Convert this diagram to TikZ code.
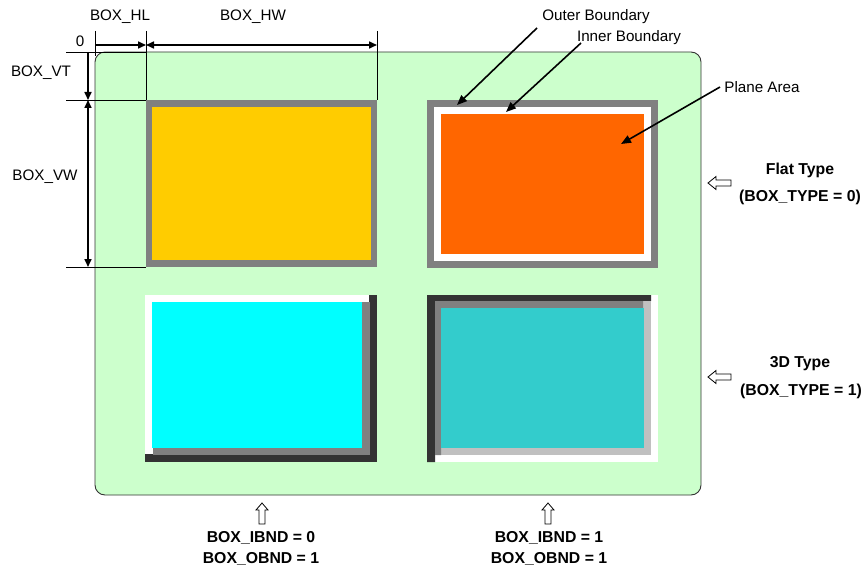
\documentclass[tikz,border=0pt]{standalone}
\usepackage{fontspec}
\setmainfont{Liberation Sans}
\usetikzlibrary{arrows.meta}
\definecolor{bggreen}{HTML}{CCFFCC}
\definecolor{bgray}{HTML}{808080}
\definecolor{bdark}{HTML}{333333}
\definecolor{blight}{HTML}{C0C0C0}
\definecolor{byellow}{HTML}{FFCC00}
\definecolor{borange}{HTML}{FF6600}
\definecolor{bcyan}{HTML}{00FFFF}
\definecolor{bteal}{HTML}{33CCCC}
\begin{document}
\begin{tikzpicture}[x=1pt,y=-1pt,
  lbl/.style={inner sep=0pt, font=\fontsize{15.2}{17}\selectfont},
  blbl/.style={inner sep=0pt, font=\fontsize{15.8}{18}\selectfont\bfseries},
  ext/.style={line width=0.8pt, draw=black},
  dimline/.style={line width=1.6pt, draw=black},
  tipd/.style={-{Triangle[length=8pt,width=7pt]}},
  tipdd/.style={{Triangle[length=8pt,width=7pt]}-{Triangle[length=8pt,width=7pt]}},
  callout/.style={line width=1.6pt, draw=black, -{Triangle[length=10pt,width=8pt]}},
  hollow/.style={draw=black, fill=white, line width=0.8pt, line join=miter}]
\useasboundingbox (0,0) rectangle (864,567);

% panel
\draw[fill=bggreen, draw=bdark, line width=0.9pt, rounded corners=10pt] (95,52) rectangle (701,495);

% box 1: flat, no inner boundary
\fill[bgray] (146,100) rectangle (377,267);
\fill[byellow] (152,107) rectangle (371,260);

% box 2: flat, inner boundary
\fill[bgray] (427,100) rectangle (658,268);
\fill[white] (434,107) rectangle (651,261);
\fill[borange] (441,114) rectangle (644,254);

% box 3: 3D raised
\fill[bdark] (145,295) rectangle (377,462);
\fill[white] (145,295) rectangle (369,454);
\fill[bgray] (153,302) rectangle (370,455);
\fill[bcyan] (152,302) rectangle (362,448);

% box 4: 3D sunken with inner boundary
\fill[white] (427,295) rectangle (658,462);
\fill[bdark] (427,462) -- (427,295) -- (651,295) -- (651,301) -- (435,301) -- (435,462) -- cycle;
\fill[blight] (435,301) rectangle (651,455);
\fill[bgray] (435,455) -- (435,301) -- (643,301) -- (643,308) -- (441,308) -- (441,455) -- cycle;
\fill[bteal] (441,308) rectangle (644,448);

% dimension coordinates
\coordinate (h0) at (95,45);
\coordinate (h1) at (146,45);
\coordinate (h2) at (377,45);
\coordinate (v0) at (88,52);
\coordinate (v1) at (88,100);
\coordinate (v2) at (88,267);

% extension lines
\draw[ext] (95,31) -- (95,56);
\draw[ext] (146,31) -- (146,100);
\draw[ext] (377,31) -- (377,100);
\draw[ext] (66,52) -- (146,52);
\draw[ext] (66,100) -- (146,100);
\draw[ext] (66,267) -- (146,267);

% dimension arrows
\draw[dimline, tipd] (h0) -- (h1);
\draw[dimline, tipdd] (h1) -- (h2);
\draw[dimline, tipd] (v0) -- (v1);
\draw[dimline, tipdd] (v1) -- (v2);

% dimension labels
\node[lbl] (zero) at (80,41) {0};
\node[lbl] (hl) at (120,17) {BOX\_HL};
\node[lbl] (hw) at (253,17) {BOX\_HW};
\node[lbl] (vt) at (41,73) {BOX\_VT};
\node[lbl] (vw) at (45,177) {BOX\_VW};

% callouts
\node[lbl] (outer) at (596,17) {Outer Boundary};
\node[lbl] (inner) at (629,38) {Inner Boundary};
\node[lbl] (plane) at (762,87) {Plane Area};
\coordinate (outerS) at (537,28);
\coordinate (outerE) at (457,105);
\coordinate (innerS) at (581,43);
\coordinate (innerE) at (506,112);
\coordinate (planeS) at (720,87);
\coordinate (planeE) at (621,144);
\draw[callout] (outerS) -- (outerE);
\draw[callout] (innerS) -- (innerE);
\draw[callout] (planeS) -- (planeE);

% right labels
\node[blbl] (flat1) at (800,170) {Flat Type};
\node[blbl] (flat2) at (800,197) {(BOX\_TYPE = 0)};
\node[blbl] (thr1) at (800,364) {3D Type};
\node[blbl] (thr2) at (801,391) {(BOX\_TYPE = 1)};
\draw[hollow] (708,183) -- (716,176.5) -- (716,180) -- (731,180) -- (731,186) -- (716,186) -- (716,189.5) -- cycle;
\draw[hollow] (708,377) -- (716,370.5) -- (716,374) -- (731,374) -- (731,380) -- (716,380) -- (716,383.5) -- cycle;

% bottom labels
\node[blbl] (ib0) at (261,538) {BOX\_IBND = 0};
\node[blbl] (ob0) at (261,559) {BOX\_OBND = 1};
\node[blbl] (ib1) at (549,538) {BOX\_IBND = 1};
\node[blbl] (ob1) at (549,559) {BOX\_OBND = 1};
\draw[hollow] (262,503) -- (268,510) -- (265,510) -- (265,524) -- (259,524) -- (259,510) -- (256,510) -- cycle;
\draw[hollow] (548,503) -- (554,510) -- (551,510) -- (551,524) -- (545,524) -- (545,510) -- (542,510) -- cycle;
\end{tikzpicture}
\end{document}
